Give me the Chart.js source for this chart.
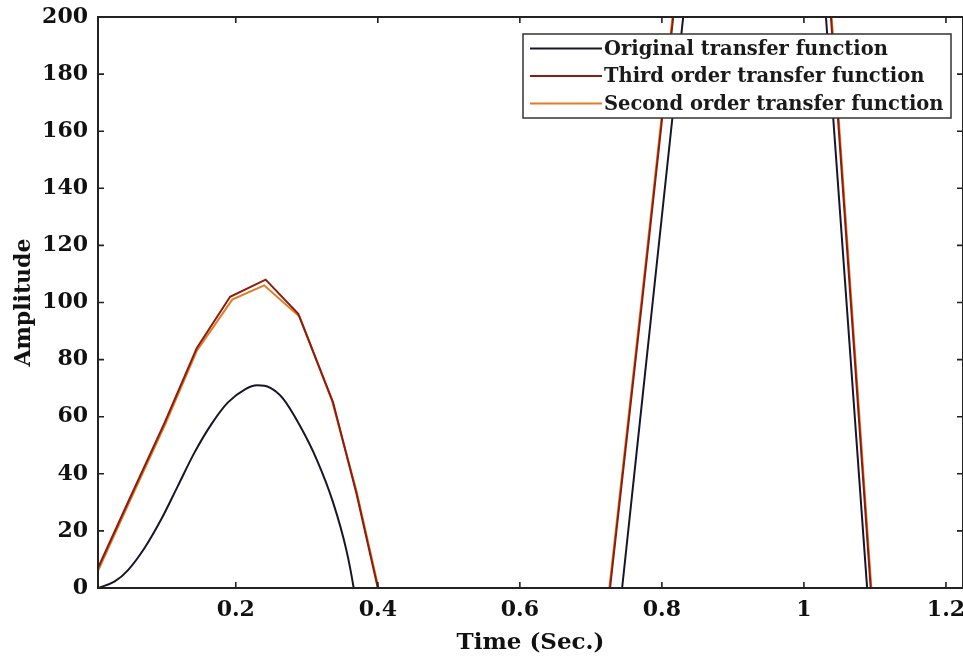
<!DOCTYPE html>
<html><head><meta charset="utf-8">
<script src="https://cdn.jsdelivr.net/npm/chart.js@4.4.1/dist/chart.umd.min.js"></script>
<style>html,body{margin:0;padding:0;background:#fff;}#wrap{width:963px;height:664px;}</style>
</head><body><div id="wrap"><canvas id="c" width="963" height="664"></canvas></div>
<script>
const seriesNames = ['Original transfer function', 'Third order transfer function', 'Second order transfer function'];
const seriesColors = ['#16162a', '#8a1c10', '#e47a22'];

const origTime = [0.006, 0.0296, 0.048, 0.072, 0.096, 0.118, 0.142, 0.166, 0.189, 0.213, 0.230, 0.248, 0.266, 0.290, 0.314, 0.337, 0.356, 0.366, 0.40, 0.55, 0.70, 0.744, 0.787, 0.83, 0.873, 0.93, 0.975, 1.002, 1.031, 1.06, 1.089, 1.118, 1.17, 1.224];
const origAmp  = [0, 2.3, 6.2, 14.2, 24.5, 35.5, 47.5, 57.5, 65, 69.6, 71, 70.2, 66.5, 57, 45, 30, 13, 0, -60, -150, -102, 0, 100, 200, 300, 360, 350, 300, 200, 100, 0, -100, -200, -250];

const thirdTime = [0.006, 0.05, 0.10, 0.145, 0.192, 0.242, 0.288, 0.337, 0.37, 0.40, 0.45, 0.55, 0.65, 0.727, 0.772, 0.816, 0.87, 0.93, 0.99, 1.038, 1.066, 1.094, 1.14, 1.19, 1.224];
const thirdAmp  = [7, 31, 58, 84, 102, 108, 96, 65, 33, 0, -45, -90, -60, 0, 100, 200, 300, 340, 320, 200, 100, 0, -90, -150, -170];

const secondTime = [0.006, 0.05, 0.10, 0.145, 0.195, 0.24, 0.29, 0.335, 0.37, 0.401, 0.45, 0.55, 0.65, 0.726, 0.771, 0.815, 0.87, 0.93, 0.99, 1.039, 1.067, 1.095, 1.14, 1.19, 1.224];
const secondAmp  = [6, 30, 57, 83, 101, 106, 95, 66, 34, 0, -44, -88, -58, 0, 100, 200, 300, 338, 322, 200, 100, 0, -88, -148, -168];

const xTickValues = [0.2, 0.4, 0.6, 0.8, 1, 1.2];
const xTickLabels = ['0.2', '0.4', '0.6', '0.8', '1', '1.2'];
const yTickValues = [0, 20, 40, 60, 80, 100, 120, 140, 160, 180, 200];
const xRange = [0.006, 1.224];
const yRange = [0, 200];
const xTitle = 'Time (Sec.)';
const yTitle = 'Amplitude';

const toPts = (xs, ys) => xs.map((x, i) => ({x: x, y: ys[i]}));
const FONT = "'DejaVu Serif', 'Liberation Serif', serif";

const framePlugin = {
  id: 'frame',
  afterDatasetsDraw(chart) {
    const {ctx, chartArea: a, scales} = chart;
    ctx.save();
    ctx.strokeStyle = '#222';
    ctx.lineWidth = 1.6;
    ctx.beginPath();
    xTickValues.forEach(v => {
      const px = scales.x.getPixelForValue(v);
      ctx.moveTo(px, a.bottom); ctx.lineTo(px, a.bottom - 6);
      ctx.moveTo(px, a.top); ctx.lineTo(px, a.top + 6);
    });
    yTickValues.forEach(v => {
      const py = scales.y.getPixelForValue(v);
      ctx.moveTo(a.left, py); ctx.lineTo(a.left + 6, py);
      ctx.moveTo(a.right, py); ctx.lineTo(a.right - 6, py);
    });
    ctx.stroke();
    ctx.lineWidth = 2;
    ctx.strokeRect(a.left, a.top, a.right - a.left, a.bottom - a.top);
    ctx.restore();
  },
  afterDraw(chart) {
    const ctx = chart.ctx;
    ctx.save();
    const bx = 523, by = 34, bw = 428, bh = 84;
    ctx.fillStyle = '#fff';
    ctx.fillRect(bx, by, bw, bh);
    ctx.strokeStyle = '#333';
    ctx.lineWidth = 1.5;
    ctx.strokeRect(bx, by, bw, bh);
    ctx.font = "bold 19.5px " + FONT;
    ctx.textBaseline = 'middle';
    ctx.textAlign = 'left';
    seriesNames.forEach((n, i) => {
      const y = by + 14.5 + i * 27.5;
      ctx.strokeStyle = seriesColors[i];
      ctx.lineWidth = 1.8;
      ctx.beginPath(); ctx.moveTo(530, y); ctx.lineTo(602, y); ctx.stroke();
      ctx.fillStyle = '#1a1a1a';
      ctx.fillText(n, 604, y + 1);
    });
    ctx.restore();
  }
};

new Chart(document.getElementById('c'), {
  type: 'line',
  data: {
    datasets: [
      {label: seriesNames[0], data: toPts(origTime, origAmp), borderColor: seriesColors[0], borderWidth: 2, pointRadius: 0, cubicInterpolationMode: 'monotone', fill: false},
      {label: seriesNames[1], data: toPts(thirdTime, thirdAmp), borderColor: seriesColors[1], borderWidth: 2, pointRadius: 0, tension: 0, fill: false},
      {label: seriesNames[2], data: toPts(secondTime, secondAmp), borderColor: seriesColors[2], borderWidth: 2, pointRadius: 0, tension: 0, fill: false}
    ]
  },
  options: {
    responsive: false,
    animation: false,
    devicePixelRatio: 1,
    layout: {padding: {top: 17, right: 0, left: 0, bottom: 0}},
    plugins: {legend: {display: false}, tooltip: {enabled: false}},
    scales: {
      x: {
        type: 'linear', min: xRange[0], max: xRange[1],
        grid: {display: false, drawTicks: false},
        border: {display: false},
        afterBuildTicks: s => { s.ticks = xTickValues.map(v => ({value: v})); },
        afterFit: s => { s.height = 76; s.paddingLeft = 0; s.paddingRight = 0; },
        ticks: {padding: 9, color: '#111', font: {family: FONT, size: 22, weight: 'bold'}, maxRotation: 0,
          callback: (v, i) => xTickLabels[i]},
        title: {display: true, text: xTitle, color: '#111', font: {family: FONT, size: 23, weight: 'bold'}, padding: {top: 0, bottom: 7}}
      },
      y: {
        type: 'linear', min: yRange[0], max: yRange[1],
        grid: {display: false, drawTicks: false},
        border: {display: false},
        afterBuildTicks: s => { s.ticks = yTickValues.map(v => ({value: v})); },
        afterFit: s => { s.width = 98; s.paddingTop = 0; s.paddingBottom = 0; },
        ticks: {padding: 10, color: '#111', font: {family: FONT, size: 22, weight: 'bold'}},
        title: {display: true, text: yTitle, color: '#111', font: {family: FONT, size: 22, weight: 'bold'}, padding: {top: 11, bottom: 11}}
      }
    }
  },
  plugins: [framePlugin]
});
</script></body></html>
